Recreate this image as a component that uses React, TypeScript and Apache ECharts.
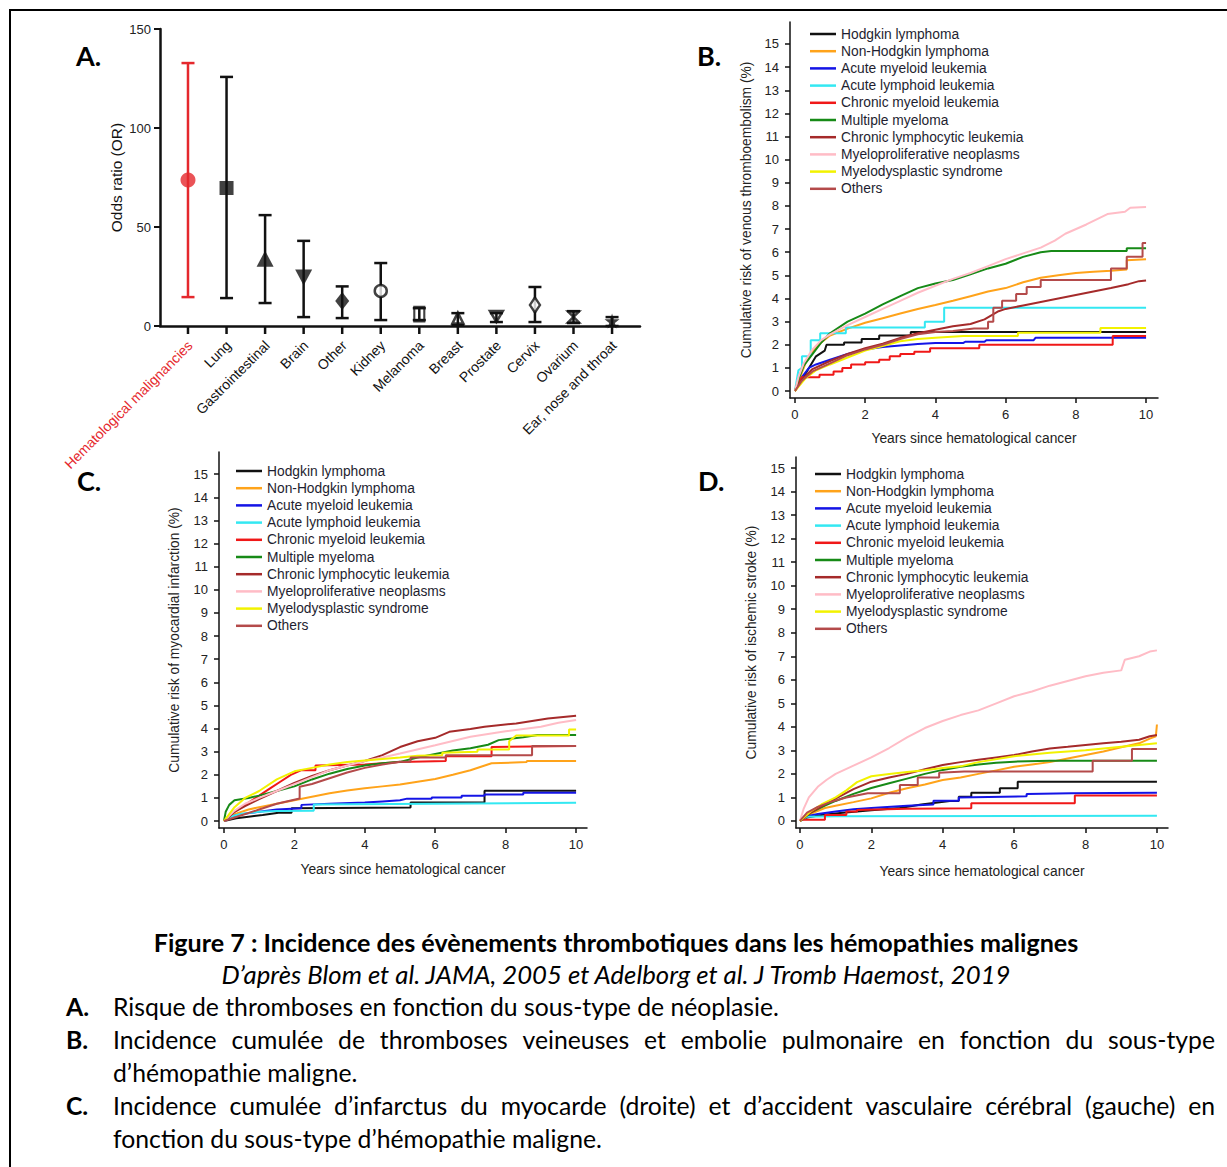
import React, { useEffect, useRef } from "react";
import * as echarts from "echarts";

const FONT = '"Liberation Sans", Arial, sans-serif';
const CAP_FONT = 'Lato, "Open Sans", sans-serif';
const RED = "#e5282d";
const INK = "#111111";

// ---------------- Panel A : odds ratios ----------------
const orCategories = [
  "Hematological malignancies", "Lung", "Gastrointestinal", "Brain", "Other", "Kidney",
  "Melanoma", "Breast", "Prostate", "Cervix", "Ovarium", "Ear, nose and throat",
];
const orValues = [73.7, 69.7, 34, 24.5, 12.6, 17.7, 6, 4, 4.8, 10.6, 4.6, 2.5];
const orLower = [14.6, 14.1, 11.6, 4.5, 4, 3, 3, 0.5, 2, 2, 1.5, 0];
const orUpper = [132.8, 125.8, 56, 43, 20, 31.8, 9, 6.5, 6.5, 19.7, 7.5, 4.5];
const orTicks = [0, 50, 100, 150];

// marker styles for panel A (one per category)
const STAR = "path://M50,0 L61,35 L98,35 L68,57 L79,91 L50,70 L21,91 L32,57 L2,35 L39,35 Z";
const HOURGLASS = "path://M0,0 L10,0 L0,10 L10,10 Z";
const markerStyles = [
  { symbol: "circle", size: 15, rotate: 0, fill: RED, stroke: RED },
  { symbol: "rect", size: 14, rotate: 0, fill: INK, stroke: INK },
  { symbol: "triangle", size: [17, 16], rotate: 0, fill: INK, stroke: INK },
  { symbol: "triangle", size: [17, 16], rotate: 180, fill: INK, stroke: INK },
  { symbol: "diamond", size: [14, 18], rotate: 0, fill: INK, stroke: INK },
  { symbol: "circle", size: 12, rotate: 0, fill: "#ffffff", stroke: INK },
  { symbol: "rect", size: [10, 14], rotate: 0, fill: "rgba(0,0,0,0)", stroke: INK },
  { symbol: "triangle", size: [11, 11], rotate: 0, fill: "rgba(0,0,0,0)", stroke: INK },
  { symbol: "triangle", size: [13, 11], rotate: 180, fill: "rgba(0,0,0,0)", stroke: INK },
  { symbol: "diamond", size: [10, 15], rotate: 0, fill: "#ffffff", stroke: INK },
  { symbol: HOURGLASS, size: [11, 11], rotate: 0, fill: "rgba(0,0,0,0)", stroke: INK },
  { symbol: STAR, size: 15, rotate: 0, fill: INK, stroke: INK },
];

// ---------------- Panels B-D : cumulative risk ----------------
const subtypeNames = [
  "Hodgkin lymphoma", "Non-Hodgkin lymphoma", "Acute myeloid leukemia", "Acute lymphoid leukemia",
  "Chronic myeloid leukemia", "Multiple myeloma", "Chronic lymphocytic leukemia",
  "Myeloproliferative neoplasms", "Myelodysplastic syndrome", "Others",
];
const subtypeColors = [
  "#111111", "#ffa31a", "#1414e6", "#33e8f2", "#f01818", "#178a17", "#a52a2a", "#ffbcc6", "#f2f200", "#b44a4a",
];
const yearTicks = [0, 2, 4, 6, 8, 10];
const riskTicks = [0, 1, 2, 3, 4, 5, 6, 7, 8, 9, 10, 11, 12, 13, 14, 15];

// B: venous thromboembolism
const vteHodgkin = [[0,0],[0.2,0.5],[0.4,1.0],[0.6,1.5],[0.85,1.75],[0.9,2.0],[1.4,2.0],[1.4,2.1],[1.9,2.1],[1.9,2.25],[2.4,2.25],[2.4,2.4],[3.3,2.4],[3.3,2.55],[10,2.55]];
const vteNHL = [[0,0],[0.15,0.6],[0.3,1.2],[0.5,1.7],[0.75,2.1],[1,2.4],[1.5,2.7],[2,2.95],[2.5,3.15],[3,3.35],[3.5,3.55],[4,3.72],[4.5,3.9],[5,4.1],[5.5,4.3],[6,4.45],[6.5,4.7],[7,4.9],[7.5,5.0],[8,5.1],[8.5,5.16],[9,5.2],[9.45,5.25],[9.45,5.65],[10,5.7]];
const vteAML = [[0,0],[0.2,0.6],[0.4,1.0],[0.6,1.15],[1,1.35],[1.5,1.6],[2,1.8],[2.5,1.9],[3,1.97],[3.5,2.03],[4,2.08],[4.8,2.08],[4.85,2.13],[5.4,2.13],[5.45,2.2],[6.8,2.2],[6.85,2.3],[10,2.3]];
const vteALL = [[0,0],[0.1,0.9],[0.2,1.0],[0.2,1.5],[0.45,1.5],[0.45,2.2],[0.72,2.2],[0.72,2.5],[1.45,2.5],[1.45,2.75],[3.7,2.75],[3.7,3.0],[4.25,3.0],[4.25,3.6],[10,3.6]];
const vteCML = [[0,0],[0.15,0.5],[0.2,0.6],[0.7,0.6],[0.7,0.7],[1.1,0.7],[1.1,0.85],[1.35,0.85],[1.35,1.0],[1.6,1.0],[1.6,1.15],[2.0,1.15],[2.0,1.25],[2.4,1.25],[2.4,1.35],[2.7,1.35],[2.7,1.5],[3.0,1.5],[3.0,1.6],[3.4,1.6],[3.4,1.7],[3.85,1.7],[3.85,1.85],[5.25,1.85],[5.25,2.0],[9.05,2.0],[9.05,2.38],[10,2.38]];
const vteMM = [[0,0],[0.1,0.5],[0.25,1.1],[0.5,1.6],[0.75,2.1],[1,2.5],[1.5,3.0],[2,3.35],[2.5,3.75],[3,4.1],[3.5,4.45],[4,4.65],[4.5,4.8],[5,5.05],[5.5,5.3],[6,5.5],[6.5,5.8],[7,6.0],[7.3,6.05],[9.45,6.05],[9.45,6.17],[10,6.17]];
const vteCLL = [[0,0],[0.2,0.5],[0.5,0.95],[1,1.3],[1.5,1.6],[2,1.85],[2.5,2.05],[3,2.3],[3.5,2.5],[4,2.65],[4.5,2.8],[5,2.9],[5.4,3.1],[5.8,3.45],[6,3.55],[6.5,3.7],[7,3.85],[7.5,4.0],[8,4.15],[8.5,4.3],[9,4.45],[9.5,4.62],[9.8,4.75],[10,4.78]];
const vteMPN = [[0,0],[0.1,0.6],[0.25,1.2],[0.5,1.8],[0.75,2.2],[1,2.45],[1.5,2.85],[2,3.2],[2.5,3.55],[3,3.9],[3.5,4.25],[4,4.55],[4.5,4.85],[5,5.1],[5.5,5.4],[6,5.7],[6.5,5.95],[7,6.2],[7.4,6.5],[7.7,6.8],[8.3,7.2],[8.9,7.65],[9.4,7.75],[9.55,7.92],[10,7.95]];
const vteMDS = [[0,0],[0.3,0.55],[0.6,0.9],[1,1.15],[1.5,1.45],[2,1.75],[2.5,1.95],[3,2.15],[3.5,2.25],[4,2.3],[4.8,2.38],[6.35,2.38],[6.35,2.52],[8.7,2.52],[8.7,2.72],[10,2.72]];
const vteOthers = [[0,0],[0.2,0.45],[0.5,0.85],[1,1.2],[1.5,1.55],[2,1.8],[2.5,2.0],[3,2.25],[3.5,2.45],[4,2.55],[4.5,2.6],[5.1,2.7],[5.5,2.7],[5.5,3.0],[5.65,3.0],[5.65,3.6],[5.9,3.6],[5.9,3.9],[6.3,3.9],[6.3,4.2],[6.6,4.2],[6.6,4.5],[7.0,4.5],[7.0,4.8],[9.0,4.8],[9.0,5.3],[9.45,5.3],[9.45,5.8],[9.9,5.8],[9.9,6.4],[10,6.4]];

// C: myocardial infarction
const miHodgkin = [[0,0],[0.35,0.12],[0.7,0.19],[1.1,0.26],[1.55,0.36],[1.92,0.36],[1.92,0.55],[5.3,0.59],[5.3,0.8],[7.4,0.8],[7.4,1.31],[10,1.31]];
const miNHL = [[0,0],[0.3,0.3],[0.7,0.5],[1,0.6],[1.5,0.75],[2,0.9],[2.5,1.05],[3,1.2],[3.5,1.32],[4,1.42],[4.5,1.5],[5,1.58],[5.5,1.7],[6,1.82],[6.5,2.0],[7,2.2],[7.3,2.35],[7.6,2.5],[8.6,2.55],[8.6,2.6],[10,2.6]];
const miAML = [[0,0],[0.2,0.2],[0.5,0.3],[1,0.4],[1.5,0.5],[2.2,0.55],[2.2,0.7],[3,0.75],[4,0.8],[4.5,0.85],[5,0.9],[5.2,0.97],[5.9,0.97],[5.9,1.02],[6.75,1.02],[6.75,1.1],[7.4,1.1],[7.4,1.15],[8.5,1.15],[8.5,1.22],[10,1.22]];
const miALL = [[0,0],[0.2,0.2],[0.5,0.32],[1,0.4],[1.5,0.43],[2.55,0.45],[2.55,0.72],[10,0.79]];
const miCML = [[0,0],[0.3,0.4],[0.7,0.8],[1,1.1],[1.3,1.4],[1.6,1.7],[1.9,2.0],[2.2,2.2],[2.6,2.2],[2.6,2.4],[4.0,2.45],[5.0,2.55],[6.3,2.6],[6.3,2.8],[7.6,2.8],[7.6,3.2],[10,3.25]];
const miMM = [[0,0],[0.05,0.4],[0.15,0.7],[0.3,0.9],[0.7,1.0],[1,1.1],[1.5,1.3],[2,1.5],[2.5,1.8],[3,2.05],[3.5,2.25],[4,2.4],[4.5,2.5],[5,2.56],[5.5,2.75],[6,2.9],[6.5,3.05],[7,3.15],[7.5,3.3],[7.8,3.5],[8.5,3.62],[8.9,3.72],[10,3.72]];
const miCLL = [[0,0],[0.3,0.4],[0.6,0.65],[1,0.95],[1.5,1.3],[2,1.65],[2.5,1.95],[3,2.2],[3.5,2.4],[4,2.6],[4.5,2.85],[5,3.2],[5.5,3.45],[6,3.6],[6.4,3.86],[7,3.98],[7.4,4.08],[8.3,4.22],[9.2,4.44],[10,4.55]];
const miMPN = [[0,0],[0.3,0.45],[0.6,0.75],[1,1.0],[1.5,1.3],[2,1.6],[2.5,1.9],[3,2.2],[3.5,2.4],[4,2.6],[4.5,2.75],[5,2.92],[6,3.28],[7,3.65],[8,3.88],[9,4.08],[9.5,4.25],[10,4.37]];
const miMDS = [[0,0],[0.3,0.6],[0.6,1.0],[1,1.3],[1.5,1.8],[2,2.15],[2.5,2.3],[3,2.45],[3.5,2.55],[4,2.62],[5,2.75],[5.5,2.82],[6.2,2.85],[6.2,2.95],[7.2,3.0],[7.2,3.1],[8.1,3.1],[8.1,3.45],[8.3,3.7],[9.8,3.7],[9.8,3.96],[10,3.96]];
const miOthers = [[0,0],[0.5,0.25],[1,0.5],[1.5,0.75],[2.15,0.98],[2.15,1.48],[2.5,1.6],[3,1.85],[3.5,2.1],[4,2.3],[4.5,2.45],[5,2.56],[5.3,2.56],[5.3,2.75],[6.3,2.75],[6.3,2.85],[8.75,2.85],[8.75,3.25],[10,3.25]];

// D: ischemic stroke
const stHodgkin = [[0,0],[0.2,0.15],[0.6,0.25],[1.2,0.35],[2,0.45],[2.8,0.55],[3.4,0.7],[4.2,0.85],[4.45,0.85],[4.45,1.03],[4.8,1.03],[4.8,1.2],[5.6,1.2],[5.6,1.39],[6.1,1.39],[6.1,1.67],[10,1.67]];
const stNHL = [[0,0],[0.3,0.3],[0.7,0.55],[1,0.65],[1.5,0.8],[2,0.96],[2.5,1.2],[3,1.39],[3.5,1.55],[4,1.74],[4.5,1.85],[5,2.0],[5.5,2.15],[6,2.3],[6.5,2.4],[7,2.5],[7.5,2.65],[8,2.8],[8.5,2.95],[9,3.13],[9.5,3.3],[9.8,3.5],[9.97,3.6],[10,4.1]];
const stAML = [[0,0],[0.2,0.2],[0.5,0.3],[1,0.4],[1.5,0.5],[2,0.55],[3,0.65],[3.74,0.7],[3.74,0.86],[4.45,0.86],[4.45,1.0],[6.35,1.05],[6.35,1.15],[7.6,1.18],[10,1.2]];
const stALL = [[0,0],[0.1,0.1],[0.2,0.18],[1,0.2],[10,0.22]];
const stCML = [[0,0],[0.05,0.05],[0.7,0.05],[0.7,0.25],[1.3,0.25],[1.3,0.4],[1.6,0.4],[1.6,0.47],[3,0.52],[4.8,0.54],[4.8,0.75],[7.7,0.75],[7.7,1.08],[10,1.08]];
const stMM = [[0,0],[0.3,0.35],[0.7,0.65],[1,0.85],[1.5,1.15],[2,1.4],[2.5,1.6],[3,1.8],[3.5,2.0],[4,2.17],[4.5,2.3],[5,2.4],[5.5,2.47],[6,2.52],[7,2.56],[10,2.56]];
const stCLL = [[0,0],[0.3,0.35],[0.7,0.7],[1,0.95],[1.5,1.35],[2,1.67],[2.5,1.85],[3,2.0],[3.5,2.2],[4,2.38],[4.5,2.5],[5,2.6],[5.5,2.7],[6,2.8],[6.5,2.95],[7,3.08],[7.5,3.15],[8,3.23],[8.5,3.3],[9,3.37],[9.5,3.45],[9.8,3.6],[10,3.65]];
const stMPN = [[0,0],[0.1,0.5],[0.25,1.0],[0.5,1.45],[0.75,1.75],[1,2.0],[1.5,2.35],[2,2.7],[2.5,3.1],[3,3.55],[3.5,3.95],[4,4.25],[4.5,4.5],[5,4.7],[5.5,5.0],[6,5.3],[6.5,5.5],[7,5.75],[7.5,5.95],[8,6.15],[8.5,6.3],[9.0,6.4],[9.1,6.85],[9.5,7.0],[9.8,7.2],[10,7.25]];
const stMDS = [[0,0],[0.3,0.4],[0.6,0.7],[1,1.0],[1.3,1.3],[1.6,1.65],[2,1.9],[2.5,2.0],[3,2.08],[3.5,2.15],[4,2.25],[4.5,2.32],[5,2.5],[6,2.75],[7,2.9],[8,3.0],[9,3.15],[10,3.3]];
const stOthers = [[0,0],[0.2,0.35],[0.5,0.6],[0.85,0.8],[1.3,1.0],[1.9,1.18],[2.8,1.18],[2.8,1.53],[3.3,1.53],[3.3,1.85],[3.9,1.85],[3.9,2.05],[4.6,2.1],[8.2,2.1],[8.2,2.56],[9.3,2.56],[9.3,3.06],[10,3.06]];

const vteCurves = [vteHodgkin, vteNHL, vteAML, vteALL, vteCML, vteMM, vteCLL, vteMPN, vteMDS, vteOthers];
const miCurves = [miHodgkin, miNHL, miAML, miALL, miCML, miMM, miCLL, miMPN, miMDS, miOthers];
const stCurves = [stHodgkin, stNHL, stAML, stALL, stCML, stMM, stCLL, stMPN, stMDS, stOthers];

// ---------------- Caption ----------------
const captionTitle = "Figure 7 : Incidence des évènements thrombotiques dans les hémopathies malignes";
const captionSource = "D’après Blom et al. JAMA, 2005 et Adelborg et al. J Tromb Haemost, 2019";
const captionTags = ["A.", "B.", "C."];
const captionParagraphs = [
  ["Risque de thromboses en fonction du sous-type de néoplasie."],
  ["Incidence cumulée de thromboses veineuses et embolie pulmonaire en fonction du sous-type", "d’hémopathie maligne."],
  ["Incidence cumulée d’infarctus du myocarde (droite) et d’accident vasculaire cérébral (gauche) en", "fonction du sous-type d’hémopathie maligne."],
];
const panelLetters = ["A.", "B.", "C.", "D."];

let measureCtx: CanvasRenderingContext2D | null = null;
function textWidth(t: string, font: string) {
  if (!measureCtx) measureCtx = document.createElement("canvas").getContext("2d");
  measureCtx!.font = font;
  return measureCtx!.measureText(t).width;
}

function buildCaption() {
  const els: any[] = [];
  const titleSize = 20 * 925 / textWidth(captionTitle, `bold 20px ${CAP_FONT}`);
  const titleFont = `bold ${titleSize.toFixed(2)}px ${CAP_FONT}`;
  els.push({ type: "text", x: 616, y: 942, style: { text: captionTitle, font: titleFont, fill: "#000", align: "center", verticalAlign: "middle" } });
  const srcSize = 20 * 792 / textWidth(captionSource, `italic 20px ${CAP_FONT}`);
  els.push({ type: "text", x: 616, y: 974, style: { text: captionSource, font: `italic ${srcSize.toFixed(2)}px ${CAP_FONT}`, fill: "#000", align: "center", verticalAlign: "middle" } });
  const bodySize = 20 * 666 / textWidth(captionParagraphs[0][0], `20px ${CAP_FONT}`);
  const bodyFont = `${bodySize.toFixed(2)}px ${CAP_FONT}`;
  const tagFont = `bold ${bodySize.toFixed(2)}px ${CAP_FONT}`;
  const left = 113, right = 1215;
  let y = 1006;
  captionParagraphs.forEach((lines, p) => {
    els.push({ type: "text", x: 66, y, style: { text: captionTags[p], font: tagFont, fill: "#000", verticalAlign: "middle" } });
    lines.forEach((line, li) => {
      const justify = li < lines.length - 1;
      if (!justify) {
        els.push({ type: "text", x: left, y, style: { text: line, font: bodyFont, fill: "#000", verticalAlign: "middle" } });
      } else {
        const words = line.split(" ");
        const ws = words.map((w) => textWidth(w, bodyFont));
        const gap = (right - left - ws.reduce((a, b) => a + b, 0)) / (words.length - 1);
        let x = left;
        words.forEach((w, i) => {
          els.push({ type: "text", x, y, style: { text: w, font: bodyFont, fill: "#000", verticalAlign: "middle" } });
          x += ws[i] + gap;
        });
      }
      y += 33;
    });
  });
  return els;
}

function kmAxes(gridIndex: number, xMin: number, xMax: number, yMin: number, yMax: number, yName: string, xGap: number, yGap: number) {
  const lineStyle = { color: INK, width: 1.5 };
  const x = {
    type: "value", gridIndex, min: xMin, max: xMax,
    axisLine: { show: true, onZero: false, lineStyle },
    axisTick: { show: true, length: 5, customValues: yearTicks, lineStyle },
    axisLabel: { customValues: yearTicks, fontSize: 13, fontFamily: FONT, color: "#222", margin: 10 },
    splitLine: { show: false },
    name: "Years since hematological cancer", nameLocation: "middle", nameGap: xGap,
    nameTextStyle: { fontSize: 13.8, fontFamily: FONT, color: "#222" },
  };
  const y = {
    type: "value", gridIndex, min: yMin, max: yMax,
    axisLine: { show: true, onZero: false, lineStyle },
    axisTick: { show: true, length: 5, customValues: riskTicks, lineStyle },
    axisLabel: { customValues: riskTicks, fontSize: 13, fontFamily: FONT, color: "#222", margin: 11 },
    splitLine: { show: false },
    name: yName, nameLocation: "middle", nameGap: yGap,
    nameTextStyle: { fontSize: 13.8, fontFamily: FONT, color: "#222" },
  };
  return { x, y };
}

function kmSeries(curves: number[][][], axisIndex: number) {
  return curves.map((data, i) => ({
    type: "line", name: subtypeNames[i], xAxisIndex: axisIndex, yAxisIndex: axisIndex,
    data, showSymbol: false, symbol: "none", silent: true,
    color: subtypeColors[i], itemStyle: { color: subtypeColors[i] },
    lineStyle: { color: subtypeColors[i], width: 2 },
  }));
}

function buildOption() {
  const aB = kmAxes(1, -0.14, 10.34, -0.3, 15.95, "Cumulative risk of venous thromboembolism (%)", 33, 37);
  const aC = kmAxes(2, -0.14, 10.31, -0.3, 15.96, "Cumulative risk of myocardial infarction (%)", 34, 38);
  const aD = kmAxes(3, -0.11, 10.31, -0.3, 15.47, "Cumulative risk of ischemic stroke (%)", 36, 38);

  const legendBase = {
    orient: "vertical", icon: "rect", itemWidth: 26, itemHeight: 2.5, itemGap: 3.2, padding: 0,
    selectedMode: false, data: subtypeNames,
    textStyle: { fontSize: 13.8, fontFamily: FONT, color: "#1e1e30", lineHeight: 14 },
  };

  const errData = orCategories.map((_, i) => [i, orLower[i], orUpper[i]]);
  const scatterData = orCategories.map((_, i) => {
    const m = markerStyles[i];
    return {
      value: [i, orValues[i]], symbol: m.symbol, symbolSize: m.size, symbolRotate: m.rotate,
      itemStyle: { color: m.fill, borderColor: m.stroke, borderWidth: m.fill === m.stroke ? 0 : 2.5 },
    };
  });

  const panelLabelPos = [[76, 55], [697, 55], [77, 480], [698, 480]];

  return {
    animation: false,
    backgroundColor: "#ffffff",
    grid: [
      { left: 160, top: 29, width: 480, height: 297, outerBoundsMode: "none" },
      { left: 790, top: 22, width: 368, height: 376, outerBoundsMode: "none" },
      { left: 219, top: 452, width: 368, height: 376, outerBoundsMode: "none" },
      { left: 796, top: 457, width: 372, height: 371, outerBoundsMode: "none" },
    ],
    xAxis: [
      {
        type: "value", gridIndex: 0, min: -0.726, max: 11.725,
        axisLine: { show: true, onZero: true, lineStyle: { color: INK, width: 2.5 } },
        axisTick: { show: false }, axisLabel: { show: false }, splitLine: { show: false },
      },
      aB.x, aC.x, aD.x,
    ],
    yAxis: [
      {
        type: "value", gridIndex: 0, min: 0, max: 150, interval: 50,
        axisLine: { show: true, onZero: false, lineStyle: { color: INK, width: 2.5 } },
        axisTick: { show: true, length: 6, lineStyle: { color: INK, width: 2 } },
        axisLabel: { fontSize: 13, fontFamily: FONT, color: "#222", margin: 9, customValues: orTicks },
        splitLine: { show: false },
        name: "Odds ratio (OR)", nameLocation: "middle", nameGap: 36,
        nameTextStyle: { fontSize: 15.5, fontFamily: FONT, color: INK },
      },
      aB.y, aC.y, aD.y,
    ],
    legend: [
      { ...legendBase, left: 810, top: 27 },
      { ...legendBase, left: 236, top: 464 },
      { ...legendBase, left: 815, top: 467 },
    ],
    series: [
      {
        type: "custom", name: "OR interval", xAxisIndex: 0, yAxisIndex: 0, clip: false, silent: true,
        encode: { x: 0, y: [1, 2] },
        data: errData,
        renderItem: (params: any, api: any) => {
          const i = api.value(0);
          const lo = api.coord([i, api.value(1)]);
          const hi = api.coord([i, api.value(2)]);
          const base = api.coord([i, 0]);
          const color = i === 0 ? RED : INK;
          const cap = 6.5;
          const ls = { stroke: color, lineWidth: 2.5 };
          return {
            type: "group",
            children: [
              { type: "line", shape: { x1: lo[0], y1: lo[1], x2: hi[0], y2: hi[1] }, style: ls },
              { type: "line", shape: { x1: hi[0] - cap, y1: hi[1], x2: hi[0] + cap, y2: hi[1] }, style: ls },
              { type: "line", shape: { x1: lo[0] - cap, y1: lo[1], x2: lo[0] + cap, y2: lo[1] }, style: ls },
              { type: "line", shape: { x1: base[0], y1: base[1], x2: base[0], y2: base[1] + 8 }, style: { stroke: INK, lineWidth: 2.5 } },
              {
                type: "text", x: base[0] + 2, y: base[1] + 17, rotation: Math.PI / 4,
                style: { text: orCategories[i], fill: i === 0 ? RED : INK, fontSize: 14, fontFamily: FONT, align: "right", verticalAlign: "middle" },
              },
            ],
          };
        },
      },
      {
        type: "scatter", name: "OR", xAxisIndex: 0, yAxisIndex: 0, silent: true, data: scatterData, z: 3,
      },
      ...kmSeries(vteCurves, 1),
      ...kmSeries(miCurves, 2),
      ...kmSeries(stCurves, 3),
    ],
    graphic: [
      { type: "rect", shape: { x: 10, y: 10, width: 1400, height: 1400 }, style: { fill: "none", stroke: "#000", lineWidth: 2 }, silent: true },
      ...panelLetters.map((t, k) => ({
        type: "text", x: panelLabelPos[k][0], y: panelLabelPos[k][1],
        style: { text: t, font: `bold 27px ${CAP_FONT}`, fill: "#000", verticalAlign: "middle" },
      })),
      ...buildCaption(),
    ],
  };
}

export default function App() {
  const ref = useRef<HTMLDivElement>(null);
  useEffect(() => {
    if (!ref.current) return;
    document.body.style.margin = "0";
    const chart = echarts.init(ref.current, undefined, { renderer: "svg" });
    chart.setOption(buildOption() as any);
    return () => chart.dispose();
  }, []);
  return (
    <div
      ref={ref}
      style={{ position: "absolute", left: 0, top: 0, width: 1227, height: 1167, background: "#fff" }}
    />
  );
}
